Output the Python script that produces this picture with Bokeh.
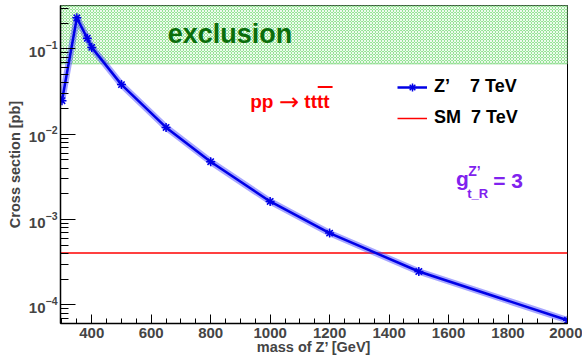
from bokeh.plotting import figure
from bokeh.models import (Range1d, BoxAnnotation, Label, Legend, LegendItem,
                          SingleIntervalTicker, LogTicker)
from bokeh.embed import file_html
from bokeh.resources import INLINE

# ---- data ----
mass = [300, 350, 385, 400, 500, 650, 800, 1000, 1200, 1500, 2000]
xsec_zprime = [0.0247, 0.231, 0.133, 0.104, 0.0381, 0.0120, 0.00476,
               0.00163, 6.93e-4, 2.46e-4, 6.6e-5]
sm_mass = [295, 2000]
sm_xsec = [4.05e-4, 4.05e-4]
exclusion_limit = 0.067
x_range = [295, 2000]
y_range = [6.05e-5, 0.322]

FONT = "Liberation Sans"

p = figure(width=582, height=359, x_range=Range1d(*x_range),
           y_range=Range1d(*y_range), y_axis_type="log",
           output_backend="svg", toolbar_location=None,
           min_border_left=60, min_border_right=15,
           min_border_top=5, min_border_bottom=36)
p.xgrid.visible = False
p.ygrid.visible = False
p.outline_line_color = "black"
p.outline_line_width = 1

# exclusion band
band = BoxAnnotation(bottom=exclusion_limit, fill_color="#6ad86a", fill_alpha=1.0,
                     hatch_pattern="diagonal_cross", hatch_color="white",
                     hatch_scale=3, hatch_weight=1.2, hatch_alpha=0.9,
                     line_color="#66cc66", line_width=2, level="underlay")
p.add_layout(band)

# SM line
sm_r = p.line(sm_mass, sm_xsec, line_color="#ff0000", line_width=1.5)

# Z' curve: error band look + line + markers
p.line(mass, xsec_zprime, line_color="#3b3bff", line_width=6.5, line_alpha=0.45)
zl = p.line(mass, xsec_zprime, line_color="#0000e6", line_width=2.5)
zm = p.scatter(mass, xsec_zprime, marker="asterisk", size=9,
               line_color="#0000e6", line_width=1.5)

legend = Legend(items=[
    LegendItem(label="Z\u2019\u00a0\u00a0\u00a0 7 TeV", renderers=[zl, zm]),
    LegendItem(label="SM\u00a0 7 TeV", renderers=[sm_r]),
], location=(337, 195), border_line_color=None, background_fill_alpha=0,
    padding=0, margin=0, spacing=10, glyph_width=30, glyph_height=20,
    label_height=20, label_standoff=7,
    label_text_font=FONT, label_text_font_style="bold",
    label_text_font_size="18px", label_text_color="black")
p.add_layout(legend)

# texts
p.add_layout(Label(x=865, y=0.1508, text="exclusion", text_align="center",
                   text_baseline="alphabetic", text_font=FONT,
                   text_font_style="bold", text_font_size="27px",
                   text_color="#0b6e0b"))
red_kw = dict(text_baseline="alphabetic", text_color="#ff0000")
p.add_layout(Label(x=933, y=0.0241, text="pp", text_font=FONT,
                   text_font_style="bold", text_font_size="19px", **red_kw))
p.add_layout(Label(x=1030, y=0.0241, text="\u2192", text_font="DejaVu Sans",
                   text_font_size="24px", **red_kw))
p.add_layout(Label(x=1115, y=0.0241, text="tttt", text_font=FONT,
                   text_font_style="bold", text_font_size="19px", **red_kw))
p.segment(x0=[1160], y0=[0.0358], x1=[1210], y1=[0.0358],
          line_color="#ff0000", line_width=2)

purple = "#7f22ee"
p.add_layout(Label(x=1625, y=3.0e-3, text="g", text_baseline="alphabetic",
                   text_font=FONT, text_font_style="bold",
                   text_font_size="21px", text_color=purple))
p.add_layout(Label(x=1666, y=3.73e-3, text="Z\u2019", text_baseline="alphabetic",
                   text_font=FONT, text_font_style="bold",
                   text_font_size="14px", text_color=purple))
p.add_layout(Label(x=1663, y=2.0e-3, text="t_R", text_baseline="alphabetic",
                   text_font=FONT, text_font_style="bold",
                   text_font_size="13px", text_color=purple))
p.add_layout(Label(x=1750, y=2.85e-3, text="= 3", text_baseline="alphabetic",
                   text_font=FONT, text_font_style="bold",
                   text_font_size="21px", text_color=purple))

# axes
xa = p.xaxis[0]
xa.ticker = SingleIntervalTicker(interval=200, num_minor_ticks=4)
xa.axis_label = "mass of Z\u2019 [GeV]"
ya = p.yaxis[0]
ya.ticker = LogTicker(num_minor_ticks=10)
ya.axis_label = "Cross section [pb]"

for ax in (xa, ya):
    ax.axis_line_width = 1.5
    ax.major_tick_out = 0
    ax.minor_tick_out = 0
    ax.major_label_text_font = FONT
    ax.major_label_text_font_style = "bold"
    ax.major_label_text_font_size = "15px"
    ax.axis_label_text_font = FONT
    ax.axis_label_text_font_style = "bold"
    ax.axis_label_text_font_size = "14.5px"
xa.major_tick_in = 9
xa.minor_tick_in = 5
ya.major_tick_in = 15
ya.minor_tick_in = 8
xa.major_label_standoff = 4
xa.axis_label_standoff = -2
ya.axis_label_standoff = 3
ya.major_label_standoff = 3

open("out.html", "w").write(file_html(p, INLINE))
